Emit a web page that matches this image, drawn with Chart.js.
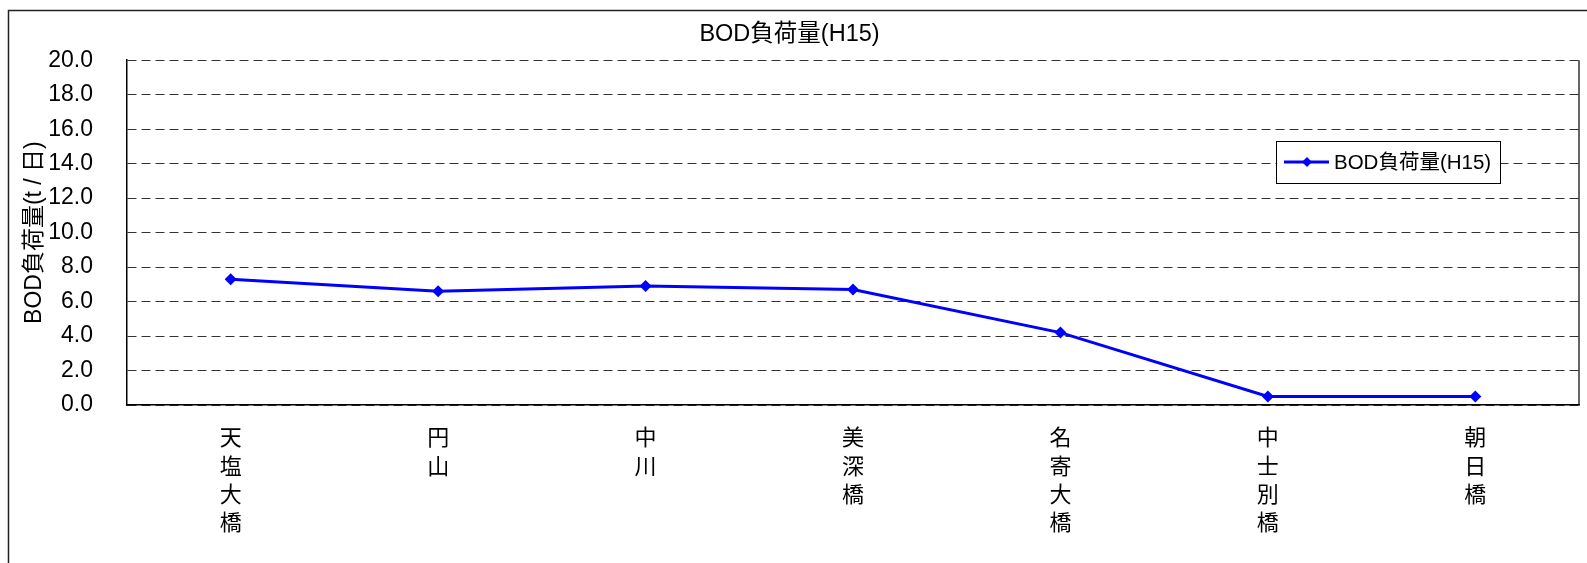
<!DOCTYPE html>
<html>
<head>
<meta charset="utf-8">
<script src="https://cdn.jsdelivr.net/npm/chart.js@4/dist/chart.umd.min.js"></script>
<style>
  html, body { margin: 0; padding: 0; background: #fff; }
  #wrap { width: 1587px; height: 563px; position: relative; }
</style>
</head>
<body>
<div id="wrap"><canvas id="myChart"></canvas></div>
<script>
// stations, one char per line like the original
const stations = [
    ['天', '塩', '大', '橋'],
    ['円', '山'],
    ['中', '川'],
    ['美', '深', '橋'],
    ['名', '寄', '大', '橋'],
    ['中', '士', '別', '橋'],
    ['朝', '日', '橋']
];
const bodLoad = [7.3, 6.6, 6.9, 6.7, 4.2, 0.5, 0.5];
const seriesName = 'BOD負荷量(H15)';
const yTitle = 'BOD負荷量(t / 日)';

const FONT = "'Liberation Sans', 'Noto Sans CJK JP', Arial, sans-serif";

// outer frame + right edge of plot
const framePlugin = {
    id: 'framePlugin',
    afterDraw(chart) {
        const ctx = chart.ctx;
        const a = chart.chartArea;
        ctx.save();
        ctx.strokeStyle = '#222';
        ctx.lineWidth = 1.5;
        ctx.beginPath();
        ctx.moveTo(8.5, 563);
        ctx.lineTo(8.5, 10.5);
        ctx.lineTo(1587, 10.5);
        ctx.stroke();
        ctx.strokeStyle = '#000';
        ctx.lineWidth = 1.2;
        ctx.beginPath();
        ctx.moveTo(a.right, a.top);
        ctx.lineTo(a.right, a.bottom);
        ctx.stroke();
        ctx.restore();
    }
};

// legend box drawn inside the plot, top right
const legendBox = {
    id: 'legendBox',
    afterDraw(chart) {
        const ctx = chart.ctx;
        const ds = chart.data.datasets[0];
        const x = 1276, y = 141, w = 224, h = 42;
        ctx.save();
        ctx.fillStyle = '#fff';
        ctx.fillRect(x, y, w, h);
        ctx.strokeStyle = '#000';
        ctx.lineWidth = 1;
        ctx.strokeRect(x + 0.5, y + 0.5, w, h);
        const cy = y + 21;
        ctx.strokeStyle = ds.borderColor;
        ctx.lineWidth = 3;
        ctx.beginPath();
        ctx.moveTo(x + 8, cy);
        ctx.lineTo(x + 53, cy);
        ctx.stroke();
        ctx.fillStyle = ds.borderColor;
        ctx.beginPath();
        ctx.moveTo(x + 31, cy - 5);
        ctx.lineTo(x + 36, cy);
        ctx.lineTo(x + 31, cy + 5);
        ctx.lineTo(x + 26, cy);
        ctx.closePath();
        ctx.fill();
        ctx.fillStyle = '#000';
        ctx.font = '20.5px ' + FONT;
        ctx.textBaseline = 'middle';
        ctx.fillText(ds.label, x + 58, cy + 1);
        ctx.restore();
    }
};

const ctx = document.getElementById('myChart').getContext('2d');
const myChart = new Chart(ctx, {
    type: 'line',
    data: {
        labels: stations,
        datasets: [{
            label: seriesName,
            data: bodLoad,
            borderColor: '#0000ff',
            backgroundColor: '#0000ff',
            borderWidth: 3,
            pointStyle: 'rectRot',
            pointRadius: 6,
            pointBorderWidth: 0,
            tension: 0
        }]
    },
    options: {
        responsive: true,
        maintainAspectRatio: false,
        animation: false,
        layout: { padding: { left: 0, right: 8, top: 0, bottom: 0 } },
        plugins: {
            legend: { display: false },
            tooltip: { enabled: false },
            title: {
                display: true,
                text: seriesName,
                color: '#000',
                font: { family: FONT, size: 23.5, weight: 'normal' },
                padding: { top: 20, bottom: 12 }
            }
        },
        scales: {
            x: {
                offset: true,
                grid: { display: false, drawTicks: false },
                border: { display: true, color: '#000', width: 1.5 },
                ticks: {
                    color: '#000',
                    autoSkip: false,
                    maxRotation: 0,
                    padding: 20,
                    font: { family: FONT, size: 22, lineHeight: 1.29 }
                },
                afterFit(scale) { scale.height = 158; }
            },
            y: {
                min: 0,
                max: 20,
                grid: { color: '#333', lineWidth: 1, drawTicks: false },
                border: { display: true, color: '#000', width: 1.5, dash: [9, 5] },
                ticks: {
                    stepSize: 2,
                    color: '#000',
                    padding: 34,
                    font: { family: FONT, size: 23 },
                    callback: v => v.toFixed(1)
                },
                title: {
                    display: true,
                    text: yTitle,
                    color: '#000',
                    font: { family: FONT, size: 23 },
                    padding: { top: 21, bottom: 0 }
                },
                afterFit(scale) { scale.width = 127; }
            }
        }
    },
    plugins: [framePlugin, legendBox]
});
</script>
</body>
</html>
